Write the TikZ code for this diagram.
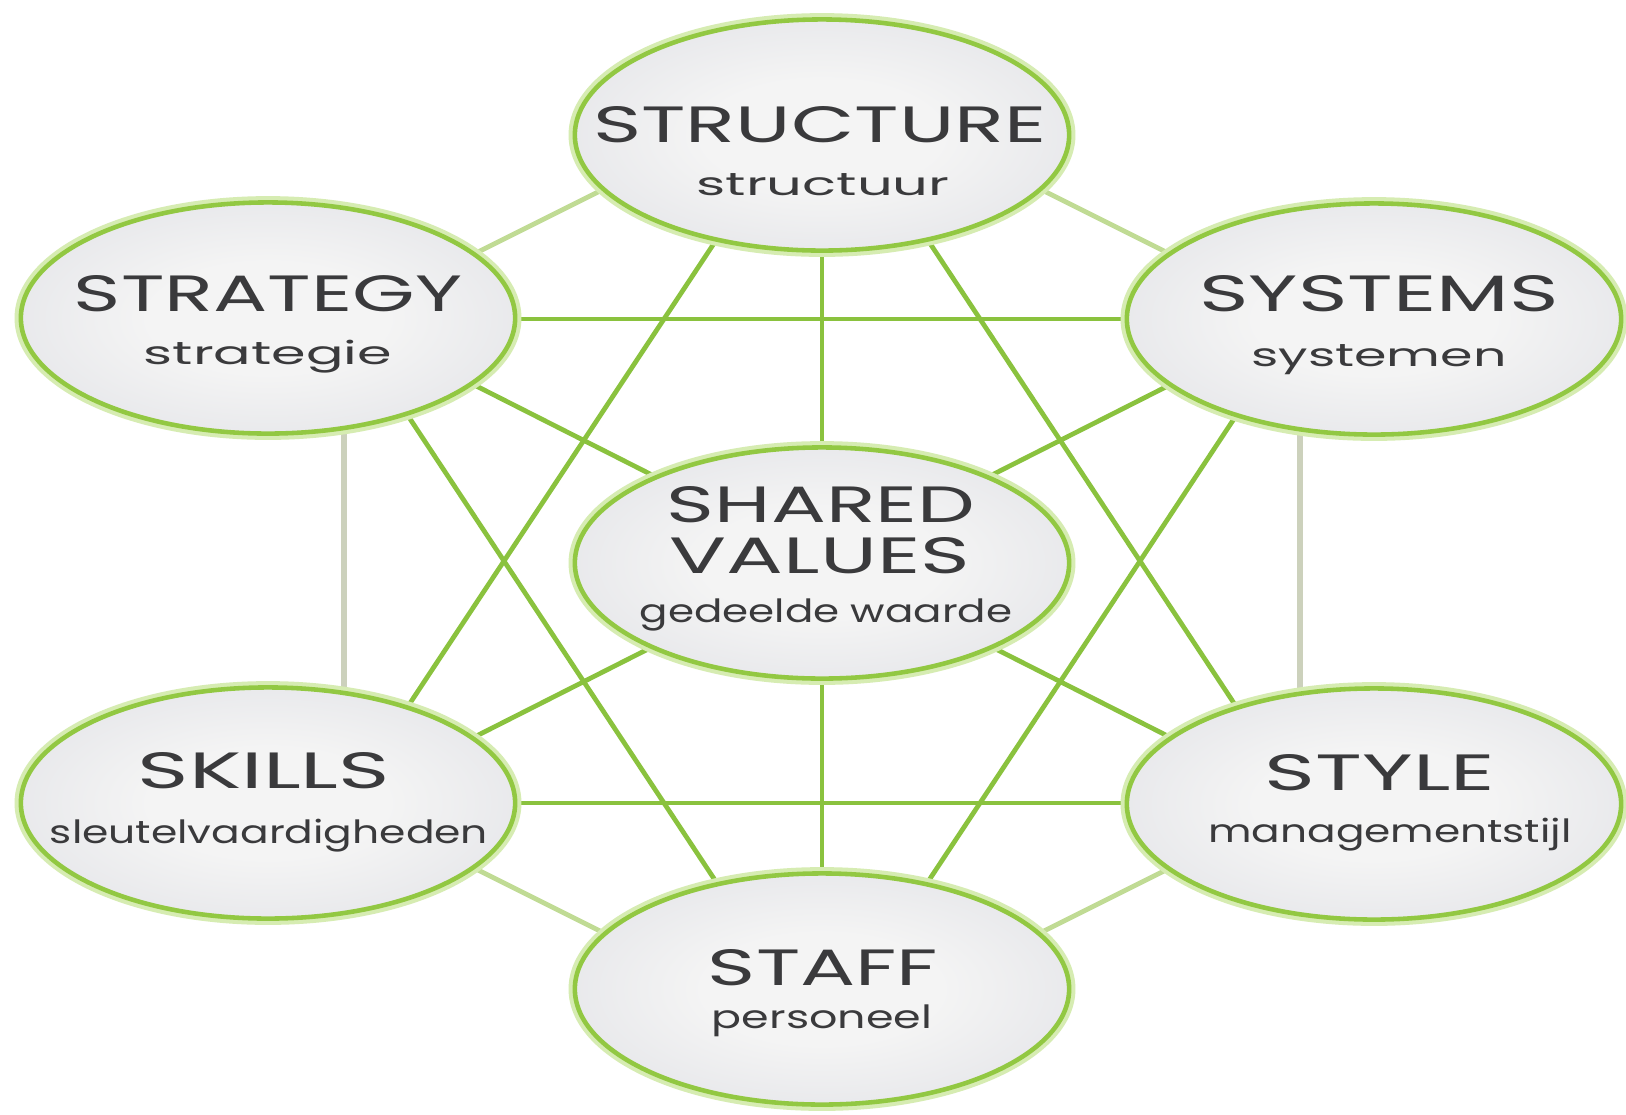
\documentclass[tikz,border=0pt]{standalone}
\usepackage{fontspec}
\setmainfont{Poppins}
\usetikzlibrary{shapes.geometric,calc}
\pgfdeclarelayer{bg}
\pgfsetlayers{bg,main}
\definecolor{lg}{RGB}{138,194,62}
\definecolor{lgpale}{RGB}{192,219,148}
\definecolor{lggray}{RGB}{204,209,188}
\definecolor{rim}{RGB}{146,200,66}
\definecolor{glow}{RGB}{214,236,178}
\definecolor{shin}{RGB}{244,244,244}
\definecolor{shmid}{RGB}{222,223,228}
\definecolor{shout}{RGB}{190,192,205}
\definecolor{txt}{RGB}{58,58,60}
\pgfdeclareradialshading{ellshade}{\pgfpoint{0bp}{0bp}}{color(0bp)=(shin); color(12bp)=(shin); color(38bp)=(shmid); color(50bp)=(shout)}
\newsavebox\lblbox
\newcommand\fitw[2]{\sbox\lblbox{#2}\pgfmathsetmacro\sxf{#1*0.284528/\the\wd\lblbox}\scalebox{\sxf}[1]{\usebox\lblbox}}
\tikzset{
  ell/.style={ellipse, inner sep=0pt, minimum width=4.94cm, minimum height=2.31cm,
    shading=ellshade, draw=rim, line width=1.3pt,
    preaction={draw=glow, line width=3.6pt}},
  captext/.style={anchor=base, inner sep=0pt, text=txt, font=\fontsize{14.5}{16}\selectfont},
  lowtext/.style={anchor=base, inner sep=0pt, text=txt, font=\fontsize{9.1}{10}\selectfont},
  strong/.style={draw=lg, line width=1.35pt},
  pale/.style={draw=lgpale, line width=1.35pt},
  grayline/.style={draw=lggray, line width=1.6pt},
}
\begin{document}
\begin{tikzpicture}[x=0.01cm, y=-0.01cm]
\useasboundingbox (0,0) rectangle (1626,1114);

\node[ell] (structure) at (822,135) {};
\node[ell] (strategy)  at (268,318) {};
\node[ell] (systems)   at (1374,319) {};
\node[ell] (shared)    at (822,563) {};
\node[ell] (skills)    at (268,803) {};
\node[ell] (style)     at (1374,804) {};
\node[ell] (staff)     at (822,989) {};

% hub points (hidden under the ellipses) where the connectors meet
\coordinate (vstructure) at ($(structure.center)+(0,-55)$);
\coordinate (vstrategy)  at ($(strategy.center)+(76,1)$);
\coordinate (vsystems)   at ($(systems.center)+(-74,0)$);
\coordinate (vshared)    at ($(shared.center)+(0,-2)$);
\coordinate (vskills)    at ($(skills.center)+(76,0)$);
\coordinate (vstyle)     at ($(style.center)+(-74,-1)$);
\coordinate (vstaff)     at ($(staff.center)+(0,53)$);

\node[captext] (t1) at (820,142) {\fitw{453}{STRUCTURE}};
\node[lowtext] (l1) at (823,195) {\fitw{253}{structuur}};
\node[captext] (t2) at (268,311) {\fitw{388}{STRATEGY}};
\node[lowtext] (l2) at (268,364) {\fitw{248}{strategie}};
\node[captext] (t3) at (1379,311) {\fitw{359}{SYSTEMS}};
\node[lowtext] (l3) at (1379,366) {\fitw{255}{systemen}};
\node[captext] (t4a) at (821,522) {\fitw{308}{SHARED}};
\node[captext] (t4b) at (820,573) {\fitw{300}{VALUES}};
\node[lowtext] (l4) at (826,622) {\fitw{372}{gedeelde waarde}};
\node[captext] (t5) at (264,788) {\fitw{252}{SKILLS}};
\node[lowtext] (l5) at (269,843) {\fitw{438}{sleutelvaardigheden}};
\node[captext] (t6) at (1380,790) {\fitw{230}{STYLE}};
\node[lowtext] (l6) at (1390,842) {\fitw{363}{managementstijl}};
\node[captext] (t7) at (823,985) {\fitw{230}{STAFF}};
\node[lowtext] (l7) at (822,1028) {\fitw{220}{personeel}};

\begin{pgfonlayer}{bg}
\fill[white] (0,0) rectangle (1626,1114);
\draw[pale] (vstructure) -- (vstrategy);
\draw[pale] (vstructure) -- (vsystems);
\draw[pale] (vskills) -- (vstaff);
\draw[pale] (vstyle) -- (vstaff);
\draw[grayline] (vstrategy) -- (vskills);
\draw[grayline] (vsystems) -- (vstyle);
\draw[strong] (vstructure) -- (vshared);
\draw[strong] (vshared) -- (vstaff);
\draw[strong] (vstrategy) -- (vshared);
\draw[strong] (vsystems) -- (vshared);
\draw[strong] (vskills) -- (vshared);
\draw[strong] (vstyle) -- (vshared);
\draw[strong] (vstrategy) -- (vsystems);
\draw[strong] (vskills) -- (vstyle);
\draw[strong] (vstructure) -- (vskills);
\draw[strong] (vstructure) -- (vstyle);
\draw[strong] (vstrategy) -- (vstaff);
\draw[strong] (vsystems) -- (vstaff);
\end{pgfonlayer}
\end{tikzpicture}
\end{document}
